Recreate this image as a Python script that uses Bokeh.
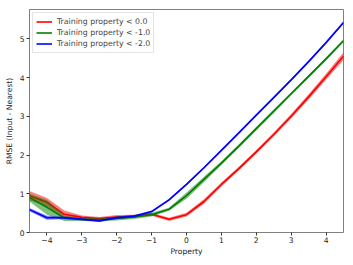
from bokeh.plotting import figure
from bokeh.models import Range1d, FixedTicker, Legend, LegendItem
from bokeh.embed import file_html
from bokeh.resources import INLINE

# ---- data ----
x = [-4.5, -4.0, -3.5, -3.0, -2.5, -2.0, -1.5, -1.0, -0.5, 0.0,
     0.5, 1.0, 1.5, 2.0, 2.5, 3.0, 3.5, 4.0, 4.5]

red_mean = [0.95, 0.78, 0.47, 0.39, 0.36, 0.40, 0.42, 0.47, 0.34, 0.46,
            0.80, 1.24, 1.65, 2.08, 2.53, 3.00, 3.50, 4.02, 4.55]
red_err = [0.12, 0.11, 0.10, 0.05, 0.04, 0.05, 0.04, 0.04, 0.04, 0.05,
           0.06, 0.05, 0.05, 0.05, 0.05, 0.06, 0.07, 0.08, 0.10]

green_mean = [0.90, 0.65, 0.37, 0.34, 0.33, 0.36, 0.40, 0.46, 0.60, 0.95,
              1.37, 1.79, 2.23, 2.68, 3.13, 3.58, 4.03, 4.48, 4.95]
green_err = [0.10, 0.19, 0.07, 0.04, 0.04, 0.05, 0.05, 0.05, 0.04, 0.08,
             0.07, 0.05, 0.05, 0.05, 0.05, 0.04, 0.04, 0.04, 0.04]

blue_mean = [0.59, 0.38, 0.38, 0.34, 0.30, 0.38, 0.42, 0.54, 0.84, 1.24,
             1.67, 2.12, 2.57, 3.03, 3.48, 3.94, 4.41, 4.90, 5.42]
blue_err = [0.04, 0.05, 0.03, 0.03, 0.03, 0.03, 0.03, 0.03, 0.03, 0.03,
            0.03, 0.03, 0.03, 0.03, 0.03, 0.03, 0.03, 0.03, 0.03]

series_labels = ["Training property < 0.0", "Training property < -1.0", "Training property < -2.0"]
series_colors = ["#ff0000", "#008000", "#0000ff"]

x_ticks = [-4, -3, -2, -1, 0, 1, 2, 3, 4]
x_tick_labels = ["\u22124", "\u22123", "\u22122", "\u22121", "0", "1", "2", "3", "4"]
y_ticks = [0, 1, 2, 3, 4, 5]
y_tick_labels = ["0", "1", "2", "3", "4", "5"]

x_label = "Property"
y_label = "RMSE (Input - Nearest)"

# ---- figure ----
FONT = "DejaVu Sans"
FS = "7.6px"
LFS = "7.8px"

p = figure(width=353, height=265, output_backend="svg", toolbar_location=None,
           x_range=Range1d(-4.5, 4.5), y_range=Range1d(0, 5.755),
           min_border_left=29, min_border_right=10, min_border_top=9, min_border_bottom=33)
p.background_fill_color = "white"
p.border_fill_color = "white"
p.outline_line_color = "#808080"
p.outline_line_width = 1
p.xgrid.visible = False
p.ygrid.visible = False

means = [red_mean, green_mean, blue_mean]
errs = [red_err, green_err, blue_err]
items = []
for m, e, c, lab in zip(means, errs, series_colors, series_labels):
    lo = [a - b for a, b in zip(m, e)]
    hi = [a + b for a, b in zip(m, e)]
    p.varea(x=x, y1=lo, y2=hi, fill_color=c, fill_alpha=0.5)
    r = p.line(x, m, line_color=c, line_width=1.6)
    items.append(LegendItem(label=lab, renderers=[r]))

legend = Legend(items=items, location="top_left",
                label_text_font=FONT, label_text_font_size=LFS,
                label_height=11, glyph_height=11, glyph_width=16,
                label_standoff=5, spacing=0, padding=3, margin=3,
                border_line_color="#cccccc", border_line_width=1,
                background_fill_alpha=0.8)
p.add_layout(legend)

for ax, ticks, labels in [(p.xaxis[0], x_ticks, x_tick_labels), (p.yaxis[0], y_ticks, y_tick_labels)]:
    ax.ticker = FixedTicker(ticks=ticks)
    ax.major_label_overrides = dict(zip(ticks, labels))
    ax.axis_line_color = None
    ax.major_tick_line_color = "#333333"
    ax.major_tick_out = 3
    ax.major_tick_in = 0
    ax.minor_tick_line_color = None
    ax.major_label_text_font = FONT
    ax.major_label_text_font_size = FS
    ax.major_label_text_color = "#222222"
    ax.axis_label_text_font = FONT
    ax.axis_label_text_font_size = FS
    ax.axis_label_text_font_style = "normal"
    ax.axis_label_text_color = "#222222"

p.xaxis.axis_label = x_label
p.yaxis.axis_label = y_label
p.xaxis.major_label_standoff = 1
p.xaxis.axis_label_standoff = 1
p.yaxis.major_label_standoff = 2
p.yaxis.axis_label_standoff = 3

open("out.html", "w").write(file_html(p, INLINE))
